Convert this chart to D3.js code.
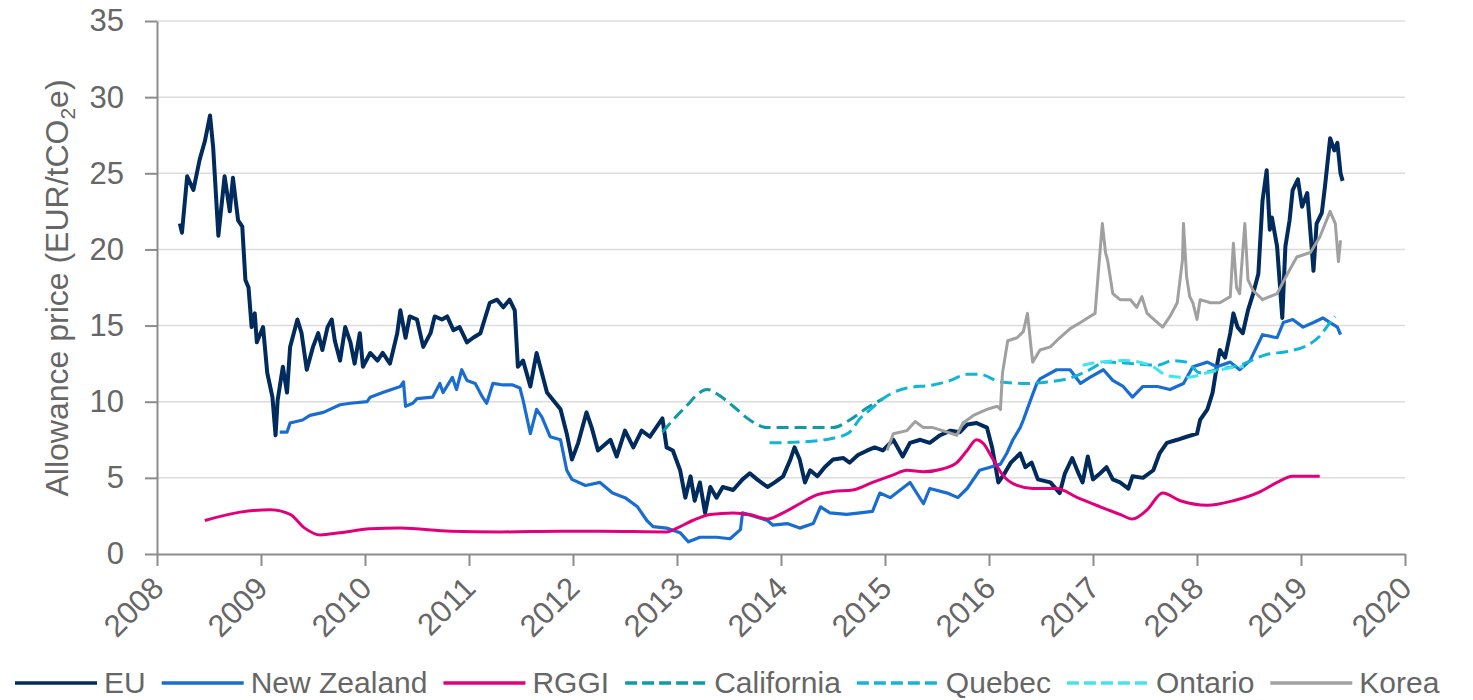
<!DOCTYPE html>
<html>
<head>
<meta charset="utf-8">
<script src="https://cdn.jsdelivr.net/npm/d3@7"></script>
<style>
  html, body { margin: 0; padding: 0; background: #fff; }
  svg { display: block; }
  text { font-family: "Liberation Sans", Arial, sans-serif; fill: #666; }
</style>
</head>
<body>
<svg id="chart" width="1473" height="700"></svg>
<script>
// values, [decimal year, EUR/tCO2e]
const euData = [
  [2008.22,21.7],[2008.24,21.1],[2008.29,24.8],[2008.35,23.9],[2008.41,25.9],[2008.46,27.1],[2008.51,28.8],
  [2008.54,26.7],[2008.59,20.9],[2008.65,24.8],[2008.70,22.5],[2008.73,24.7],[2008.78,21.9],[2008.82,21.5],
  [2008.85,18.0],[2008.88,17.5],[2008.91,14.9],[2008.94,15.8],[2008.96,13.9],[2009.02,14.9],[2009.06,11.9],
  [2009.11,10.3],[2009.14,7.8],[2009.16,10.1],[2009.21,12.3],[2009.25,10.6],[2009.28,13.6],[2009.35,15.4],
  [2009.39,14.5],[2009.44,12.1],[2009.50,13.6],[2009.55,14.5],[2009.59,13.4],[2009.64,14.9],[2009.68,15.4],
  [2009.71,14.0],[2009.76,12.7],[2009.81,14.9],[2009.86,13.9],[2009.90,12.5],[2009.95,14.5],[2009.98,12.3],
  [2010.05,13.2],[2010.12,12.7],[2010.17,13.2],[2010.24,12.5],[2010.31,14.5],[2010.34,16.0],[2010.39,14.2],
  [2010.43,15.6],[2010.50,15.4],[2010.56,13.6],[2010.63,14.5],[2010.67,15.6],[2010.74,15.4],[2010.79,15.6],
  [2010.85,14.7],[2010.91,14.9],[2010.98,13.9],[2011.04,14.2],[2011.11,14.5],[2011.15,15.4],[2011.20,16.5],
  [2011.27,16.7],[2011.33,16.2],[2011.39,16.7],[2011.44,16.0],[2011.47,12.3],[2011.52,12.7],[2011.59,11.0],
  [2011.65,13.2],[2011.70,11.9],[2011.75,10.6],[2011.81,10.1],[2011.88,9.5],[2011.94,7.9],[2011.99,6.2],
  [2012.05,7.3],[2012.13,9.3],[2012.18,8.3],[2012.24,6.8],[2012.36,7.5],[2012.42,6.4],[2012.50,8.1],
  [2012.58,7.0],[2012.66,8.1],[2012.74,7.7],[2012.86,8.9],[2012.90,7.0],[2012.96,6.8],[2013.03,5.5],
  [2013.08,3.7],[2013.13,5.1],[2013.17,3.5],[2013.22,4.7],[2013.27,2.7],[2013.32,4.4],[2013.38,3.7],
  [2013.44,4.4],[2013.54,4.2],[2013.63,4.9],[2013.70,5.3],[2013.77,4.9],[2013.87,4.4],[2013.94,4.7],
  [2014.02,5.1],[2014.09,6.2],[2014.13,7.0],[2014.18,6.2],[2014.23,4.7],[2014.28,5.5],[2014.35,5.1],
  [2014.42,5.7],[2014.50,6.2],[2014.60,6.3],[2014.66,6.0],[2014.74,6.5],[2014.83,6.8],[2014.90,7.0],
  [2014.98,6.8],[2015.08,7.5],[2015.17,6.4],[2015.24,7.3],[2015.34,7.5],[2015.43,7.3],[2015.53,7.8],
  [2015.63,8.1],[2015.72,8.0],[2015.79,8.5],[2015.88,8.6],[2015.98,8.3],[2016.03,7.0],[2016.09,4.7],
  [2016.15,5.3],[2016.21,6.0],[2016.30,6.6],[2016.35,5.7],[2016.41,6.0],[2016.47,4.9],[2016.59,4.7],
  [2016.68,4.0],[2016.73,5.3],[2016.80,6.3],[2016.86,5.3],[2016.90,4.7],[2016.95,6.4],[2017.00,4.9],
  [2017.07,5.3],[2017.13,5.7],[2017.19,4.9],[2017.26,4.7],[2017.34,4.3],[2017.38,5.1],[2017.48,5.0],
  [2017.58,5.5],[2017.64,6.6],[2017.71,7.3],[2017.81,7.5],[2017.90,7.7],[2018.00,7.9],[2018.03,8.8],
  [2018.10,9.5],[2018.15,10.6],[2018.19,12.3],[2018.22,13.4],[2018.27,12.9],[2018.32,14.5],[2018.35,15.8],
  [2018.39,14.9],[2018.44,14.5],[2018.49,16.0],[2018.54,17.1],[2018.59,18.4],[2018.63,23.2],[2018.67,25.2],
  [2018.70,21.3],[2018.72,22.1],[2018.77,20.2],[2018.82,15.5],[2018.85,20.2],[2018.89,21.9],[2018.92,23.9],
  [2018.97,24.6],[2019.01,22.8],[2019.06,23.7],[2019.11,19.5],[2019.12,18.6],[2019.15,21.7],[2019.20,22.4],
  [2019.23,24.1],[2019.28,27.3],[2019.32,26.5],[2019.35,27.0],[2019.38,25.0],[2019.40,24.5]
];

const nzData = [
  [2009.18,8.0],[2009.25,8.0],[2009.28,8.6],[2009.40,8.8],[2009.47,9.1],[2009.60,9.3],[2009.76,9.8],
  [2009.86,9.9],[2010.02,10.0],[2010.05,10.3],[2010.17,10.6],[2010.34,11.0],[2010.37,11.3],[2010.39,9.7],
  [2010.46,9.9],[2010.50,10.2],[2010.65,10.3],[2010.72,11.2],[2010.75,10.6],[2010.84,11.6],[2010.88,10.8],
  [2010.93,12.1],[2010.98,11.4],[2011.06,11.2],[2011.13,10.3],[2011.17,9.9],[2011.23,11.2],[2011.33,11.1],
  [2011.42,11.1],[2011.49,10.9],[2011.52,10.1],[2011.59,7.9],[2011.65,9.5],[2011.70,9.0],[2011.78,7.7],
  [2011.88,7.5],[2011.94,5.5],[2011.99,4.9],[2012.12,4.5],[2012.26,4.7],[2012.38,4.0],[2012.50,3.7],
  [2012.62,3.1],[2012.71,2.2],[2012.77,1.8],[2012.90,1.7],[2013.03,1.4],[2013.11,0.8],[2013.22,1.1],
  [2013.38,1.1],[2013.51,1.0],[2013.61,1.6],[2013.63,2.7],[2013.73,2.5],[2013.87,2.2],[2013.92,1.9],
  [2014.06,2.0],[2014.18,1.7],[2014.31,2.0],[2014.38,3.1],[2014.47,2.7],[2014.63,2.6],[2014.76,2.7],
  [2014.88,2.8],[2014.95,4.0],[2015.05,3.7],[2015.24,4.7],[2015.37,3.3],[2015.43,4.3],[2015.60,4.0],
  [2015.70,3.7],[2015.79,4.3],[2015.91,5.5],[2016.01,5.7],[2016.11,5.9],[2016.17,6.6],[2016.23,7.5],
  [2016.30,8.3],[2016.33,8.8],[2016.41,10.3],[2016.46,11.2],[2016.49,11.5],[2016.65,12.1],[2016.78,12.1],
  [2016.88,11.2],[2016.97,11.6],[2017.10,12.1],[2017.19,11.4],[2017.29,11.0],[2017.38,10.3],[2017.48,11.0],
  [2017.62,11.0],[2017.74,10.8],[2017.87,11.2],[2017.96,12.3],[2018.10,12.6],[2018.19,12.3],[2018.32,12.6],
  [2018.41,12.1],[2018.51,12.7],[2018.63,14.4],[2018.77,14.2],[2018.83,15.2],[2018.92,15.4],[2019.02,14.9],
  [2019.12,15.2],[2019.21,15.5],[2019.28,15.2],[2019.35,14.9],[2019.38,14.4]
];

const rggiData = [
  [2008.46,2.2],[2008.80,2.75],[2009.09,2.9],[2009.28,2.6],[2009.42,1.7],[2009.57,1.25],[2009.76,1.4],
  [2010.05,1.65],[2010.34,1.7],[2010.82,1.5],[2011.30,1.45],[2011.88,1.5],[2012.26,1.5],[2012.90,1.45],
  [2013.00,1.7],[2013.15,2.2],[2013.32,2.6],[2013.54,2.7],[2013.70,2.6],[2013.87,2.3],[2014.02,2.7],
  [2014.18,3.3],[2014.35,3.9],[2014.50,4.1],[2014.69,4.2],[2014.88,4.7],[2015.08,5.2],[2015.21,5.5],
  [2015.37,5.4],[2015.56,5.6],[2015.69,6.0],[2015.79,6.8],[2015.88,7.5],[2015.94,7.3],[2016.04,6.2],
  [2016.13,5.2],[2016.27,4.5],[2016.42,4.3],[2016.65,4.3],[2016.85,3.7],[2017.07,3.1],[2017.26,2.6],
  [2017.38,2.3],[2017.52,2.9],[2017.67,4.0],[2017.84,3.5],[2018.10,3.2],[2018.35,3.5],[2018.61,4.1],
  [2018.77,4.7],[2018.92,5.1],[2019.18,5.1]
];

const californiaData = [
  [2012.86,8.0],[2013.06,9.5],[2013.29,10.8],[2013.41,10.4],[2013.54,9.7],[2013.70,8.8],[2013.87,8.3],
  [2014.06,8.3],[2014.35,8.3],[2014.50,8.3],[2014.66,8.8],[2014.83,9.6],[2014.98,10.2]
];

const quebecData = [
  [2013.89,7.3],[2014.18,7.35],[2014.50,7.6],[2014.66,8.0],[2014.76,8.9],[2014.86,9.5],[2014.98,10.2],
  [2015.21,10.9],[2015.46,11.1],[2015.63,11.4],[2015.79,11.8],[2015.91,11.8],[2016.11,11.3],[2016.37,11.2],
  [2016.56,11.3],[2016.75,11.5],[2016.94,12.0],[2017.13,12.6],[2017.38,12.5],[2017.62,12.4],[2017.77,12.7],
  [2017.90,12.6],[2018.03,11.9],[2018.19,12.1],[2018.41,12.4],[2018.67,13.1],[2018.87,13.3],[2019.06,13.7],
  [2019.18,14.3],[2019.28,15.2],[2019.33,15.6]
];

const ontarioData = [
  [2016.90,12.4],[2017.05,12.6],[2017.30,12.7],[2017.55,12.4],[2017.72,11.7],[2017.90,11.6],[2018.10,11.9],
  [2018.30,12.2],[2018.45,12.3]
];

const koreaData = [
  [2015.02,6.8],[2015.08,7.9],[2015.21,8.1],[2015.29,8.7],[2015.37,8.3],[2015.46,8.3],[2015.60,8.0],
  [2015.69,7.8],[2015.75,8.6],[2015.85,9.1],[2015.98,9.5],[2016.08,9.7],[2016.11,9.5],[2016.13,11.9],
  [2016.18,14.0],[2016.27,14.2],[2016.33,14.6],[2016.37,15.8],[2016.41,13.2],[2016.42,12.6],[2016.49,13.4],
  [2016.59,13.6],[2016.68,14.2],[2016.78,14.8],[2016.88,15.2],[2016.97,15.6],[2017.02,15.8],[2017.05,18.4],
  [2017.09,21.7],[2017.12,19.8],[2017.14,19.3],[2017.19,17.1],[2017.26,16.7],[2017.36,16.7],[2017.42,16.2],
  [2017.47,16.9],[2017.52,15.8],[2017.62,15.2],[2017.67,14.9],[2017.74,15.6],[2017.81,16.5],[2017.86,19.3],
  [2017.87,21.7],[2017.90,18.2],[2017.93,16.9],[2017.96,16.5],[2018.00,15.4],[2018.03,16.7],[2018.13,16.5],
  [2018.22,16.5],[2018.32,16.9],[2018.35,20.4],[2018.38,17.5],[2018.41,17.1],[2018.46,21.7],[2018.49,18.0],
  [2018.54,17.3],[2018.63,16.7],[2018.77,17.1],[2018.87,18.4],[2018.96,19.5],[2019.09,19.8],[2019.18,20.8],
  [2019.28,22.5],[2019.33,21.7],[2019.36,19.2],[2019.38,20.6]
];

const yearTicks = [2008,2009,2010,2011,2012,2013,2014,2015,2016,2017,2018,2019,2020];
const priceTicks = [0,5,10,15,20,25,30,35];

const series = [
  {name: "EU",          data: euData,         color: "#002b5c", width: 4,   dash: null,   smooth: false},
  {name: "New Zealand", data: nzData,         color: "#1a6dd0", width: 3.2, dash: null,   smooth: false},
  {name: "RGGI",        data: rggiData,       color: "#e2007a", width: 3,   dash: null,   smooth: true},
  {name: "California",  data: californiaData, color: "#0e9aa7", width: 3,   dash: "12,6", smooth: true},
  {name: "Quebec",      data: quebecData,     color: "#12b5d5", width: 3,   dash: "12,6", smooth: true},
  {name: "Ontario",     data: ontarioData,    color: "#45e2f2", width: 3,   dash: "12,6", smooth: true},
  {name: "Korea",       data: koreaData,      color: "#a0a0a0", width: 3,   dash: null,   smooth: false}
];

const svg = d3.select("#chart");
const plotL = 157, plotR = 1405, plotT = 21, plotB = 554;

const x = d3.scaleLinear().domain([2008, 2020]).range([plotL, plotR]);
const y = d3.scaleLinear().domain([0, 35]).range([plotB, plotT]);

// gridlines
svg.append("g")
  .selectAll("line")
  .data(priceTicks.filter(d => d > 0))
  .enter().append("line")
    .attr("x1", plotL).attr("x2", plotR)
    .attr("y1", d => y(d)).attr("y2", d => y(d))
    .attr("stroke", "#dcdcdc")
    .attr("stroke-width", 1.5);

// series
const line = d3.line().x(d => x(d[0])).y(d => y(d[1]));
series.forEach(s => {
  line.curve(s.smooth ? d3.curveMonotoneX : d3.curveLinear);
  svg.append("path")
    .datum(s.data)
    .attr("fill", "none")
    .attr("stroke", s.color)
    .attr("stroke-width", s.width)
    .attr("stroke-linejoin", "round")
    .attr("stroke-dasharray", s.dash)
    .attr("d", line);
});

// axes
const yAxis = d3.axisLeft(y).tickValues(priceTicks).tickSize(12).tickSizeOuter(0).tickPadding(21);
const gy = svg.append("g").attr("transform", "translate(" + plotL + ",0)").call(yAxis);

const xAxis = d3.axisBottom(x).tickValues(yearTicks).tickFormat(d3.format("d")).tickSize(12).tickSizeOuter(0);
const gx = svg.append("g").attr("transform", "translate(0," + plotB + ")").call(xAxis);

[gx, gy].forEach(g => {
  g.selectAll("path, line").attr("stroke", "#8c8c8c").attr("stroke-width", 2);
  g.selectAll("text").attr("font-size", 31).attr("font-family", "Liberation Sans, Arial, sans-serif").attr("fill", "#666");
});

gx.selectAll("text")
  .attr("text-anchor", "end")
  .attr("x", 0).attr("y", 0).attr("dy", 0)
  .attr("transform", "translate(8,36) rotate(-45)");

// y title
const title = svg.append("text")
  .attr("transform", "translate(68,288) rotate(-90)")
  .attr("text-anchor", "middle")
  .attr("font-size", 32);
title.append("tspan").text("Allowance price (EUR/tCO");
title.append("tspan").attr("font-size", 21).attr("dy", 7).text("2");
title.append("tspan").attr("dy", -7).text("e)");

// legend
const legend = svg.append("g");
let lx = 15;
const ly = 683;
series.forEach(s => {
  legend.append("line")
    .attr("x1", lx).attr("x2", lx + 82)
    .attr("y1", ly).attr("y2", ly)
    .attr("stroke", s.color)
    .attr("stroke-width", 3.5)
    .attr("stroke-dasharray", s.dash ? "12,5" : null);
  const t = legend.append("text")
    .attr("x", lx + 89)
    .attr("y", ly + 10)
    .attr("font-size", 30)
    .text(s.name);
  lx += 89 + t.node().getComputedTextLength() + 16;
});
</script>
</body>
</html>
